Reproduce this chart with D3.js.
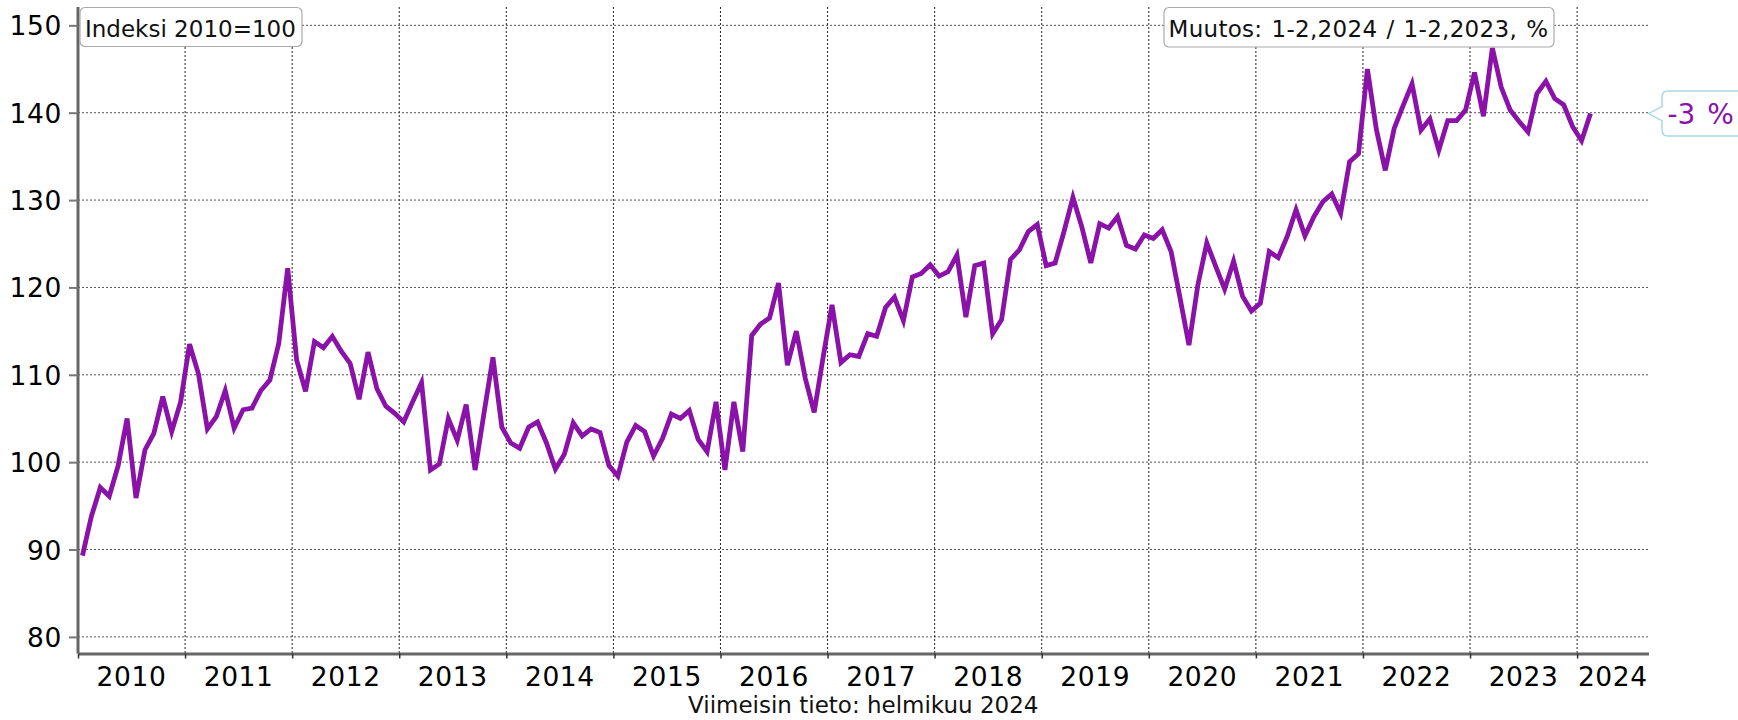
<!DOCTYPE html>
<html>
<head>
<meta charset="utf-8">
<script src="https://cdn.jsdelivr.net/npm/d3@7"></script>
<style>
  html, body { margin: 0; padding: 0; background: #fff; }
  svg { display: block; font-family: "DejaVu Sans", Verdana, sans-serif; }
</style>
</head>
<body>
<svg id="chart" width="1738" height="720"></svg>
<script>
// ---- Data (monthly index, 2010=100), Jan 2010 .. Feb 2024 ----
const startYear = 2010;
const indexValues = [
  // 2010
  89.3, 93.8, 97.1, 96.1, 99.6, 105.0, 95.9, 101.4, 103.3, 107.5, 103.5, 106.9,
  // 2011
  113.5, 110.1, 103.8, 105.2, 108.2, 103.9, 106.0, 106.2, 108.2, 109.4, 113.6, 122.2,
  // 2012
  111.7, 108.1, 113.8, 113.1, 114.4, 112.7, 111.3, 107.2, 112.6, 108.4, 106.4, 105.6,
  // 2013
  104.6, 106.9, 109.1, 99.1, 99.8, 105.0, 102.5, 106.6, 99.1, 105.6, 112.0, 104.0,
  // 2014
  102.2, 101.6, 104.0, 104.6, 102.2, 99.2, 100.9, 104.5, 103.0, 103.8, 103.4, 99.6,
  // 2015
  98.4, 102.3, 104.2, 103.5, 100.7, 102.7, 105.5, 105.0, 105.9, 102.6, 101.2, 106.9,
  // 2016
  99.1, 106.9, 101.2, 114.5, 115.8, 116.5, 120.5, 111.1, 115.0, 109.6, 105.7, 112.0,
  // 2017
  118.0, 111.4, 112.3, 112.1, 114.7, 114.4, 117.7, 118.9, 116.2, 121.2, 121.6, 122.6,
  // 2018
  121.3, 121.8, 123.7, 116.6, 122.5, 122.8, 114.7, 116.3, 123.2, 124.3, 126.4, 127.2,
  // 2019
  122.5, 122.8, 126.4, 130.3, 126.9, 122.8, 127.3, 126.8, 128.1, 124.8, 124.4, 126.0,
  // 2020
  125.6, 126.6, 124.1, 118.8, 113.4, 120.3, 125.1, 122.4, 119.8, 123.0, 119.0, 117.3,
  // 2021
  118.2, 124.1, 123.4, 125.8, 128.9, 125.9, 128.1, 129.8, 130.7, 128.5, 134.4, 135.3,
  // 2022
  145.0, 138.1, 133.4, 138.2, 140.8, 143.3, 138.0, 139.3, 135.7, 139.1, 139.1, 140.3,
  // 2023
  144.6, 139.6, 147.4, 142.9, 140.3, 139.0, 137.8, 142.2, 143.6, 141.6, 140.9, 138.4,
  // 2024
  136.8, 139.9
];
const yearLabels = ["2010","2011","2012","2013","2014","2015","2016","2017","2018","2019","2020","2021","2022","2023","2024"];
const yTickValues = [80, 90, 100, 110, 120, 130, 140, 150];
const unitLabel = "Indeksi 2010=100";
const changeTitle = "Muutos: 1-2,2024 / 1-2,2023, %";
const changeValue = "-3 %";
const footerText = "Viimeisin tieto: helmikuu 2024";

(function () {
  // ---- Layout ----
  const svg = d3.select("#chart");
  const pLeft = 78, pRight = 1648.5, pTop = 7, pBottom = 653.5;
  const totalMonths = 176; // axis runs Jan 2010 .. Sep 2024
  const purple = "#8a12a8";

  const x = d3.scaleLinear().domain([0, totalMonths]).range([pLeft, pRight]);
  const y = d3.scaleLinear().domain([78.1, 152.1]).range([pBottom, pTop]);

  // horizontal gridlines
  svg.append("g").selectAll("line").data(yTickValues).join("line")
    .attr("x1", pLeft).attr("x2", pRight)
    .attr("y1", d => y(d)).attr("y2", d => y(d))
    .attr("stroke", "#555").attr("stroke-width", 1).attr("stroke-dasharray", "2,2");

  // vertical gridlines at year boundaries
  const yearStarts = yearLabels.map((_, i) => i * 12);
  svg.append("g").selectAll("line").data(yearStarts.slice(1)).join("line")
    .attr("x1", d => x(d)).attr("x2", d => x(d))
    .attr("y1", pTop).attr("y2", pBottom)
    .attr("stroke", "#222").attr("stroke-width", 1).attr("stroke-dasharray", "2,2");

  // y axis
  const yAxis = svg.append("g").attr("transform", `translate(${pLeft},0)`)
    .call(d3.axisLeft(y).tickValues(yTickValues).tickSize(9).tickSizeOuter(0).tickPadding(7));
  yAxis.select(".domain").attr("stroke", "#666").attr("stroke-width", 3)
    .attr("d", `M0,${pTop}V${pBottom}`);
  yAxis.selectAll(".tick line").attr("stroke", "#777").attr("stroke-width", 2);
  yAxis.selectAll(".tick text").attr("font-size", 26.5).attr("fill", "#000")
    .attr("font-family", "DejaVu Sans, Verdana, sans-serif").attr("dy", "0.36em")
    .attr("letter-spacing", 0.6);

  // x axis
  const xAxis = svg.append("g").attr("transform", `translate(0,${pBottom})`)
    .call(d3.axisBottom(x).tickValues(yearStarts).tickSize(5).tickSizeOuter(0).tickFormat(""));
  xAxis.select(".domain").attr("stroke", "#666").attr("stroke-width", 3);
  xAxis.selectAll(".tick line").attr("stroke", "#333").attr("stroke-width", 1.5);

  // year labels centered in each year span
  svg.append("g").selectAll("text").data(yearLabels).join("text")
    .attr("x", (d, i) => {
      const s = i * 12, e = Math.min(s + 12, totalMonths);
      return x((s + e) / 2);
    })
    .attr("y", 686)
    .attr("text-anchor", "middle")
    .attr("font-size", 26.5)
    .attr("letter-spacing", 0.6)
    .attr("fill", "#000")
    .text(d => d);

  // line
  const line = d3.line()
    .x((d, i) => x(i + 0.5))
    .y(d => y(d));
  svg.append("path").datum(indexValues)
    .attr("d", line)
    .attr("fill", "none")
    .attr("stroke", purple)
    .attr("stroke-width", 4.8)
    .attr("stroke-linejoin", "miter");

  // unit box
  svg.append("rect").attr("x", 80).attr("y", 7.5).attr("width", 222).attr("height", 39)
    .attr("rx", 5).attr("fill", "#fff").attr("stroke", "#aaa").attr("stroke-width", 1.2);
  svg.append("text").attr("x", 85).attr("y", 36.5).attr("font-size", 23).attr("fill", "#111").text(unitLabel);

  // change title box
  svg.append("rect").attr("x", 1164).attr("y", 7.5).attr("width", 390).attr("height", 39.5)
    .attr("rx", 5).attr("fill", "#fff").attr("stroke", "#aaa").attr("stroke-width", 1.2);
  svg.append("text").attr("x", 1168.5).attr("y", 36.5).attr("font-size", 23)
    .attr("letter-spacing", 0.3).attr("word-spacing", 1.5)
    .attr("fill", "#111").text(changeTitle);

  // callout with change value, pointing at last value
  const lastVal = indexValues[indexValues.length - 1];
  const tipX = x(totalMonths), tipY = y(lastVal);
  const bx = tipX + 13.5, bTop = tipY - 22.7, bBot = tipY + 22.3, bRight = 1760, r = 6;
  const callout = d3.path();
  callout.moveTo(tipX, tipY);
  callout.lineTo(bx, tipY - 7);
  callout.lineTo(bx, bTop + r);
  callout.quadraticCurveTo(bx, bTop, bx + r, bTop);
  callout.lineTo(bRight, bTop);
  callout.lineTo(bRight, bBot);
  callout.lineTo(bx + r, bBot);
  callout.quadraticCurveTo(bx, bBot, bx, bBot - r);
  callout.lineTo(bx, tipY + 7);
  callout.closePath();
  svg.append("path").attr("d", callout.toString())
    .attr("fill", "#fff").attr("stroke", "#a8d8ea").attr("stroke-width", 1.5);
  svg.append("text").attr("x", bx + 5.5).attr("y", tipY + 10.5)
    .attr("font-size", 28).attr("word-spacing", 3).attr("fill", purple).text(changeValue);

  // footer
  svg.append("text").attr("x", (pLeft + pRight) / 2).attr("y", 713)
    .attr("text-anchor", "middle").attr("font-size", 23).attr("fill", "#111").text(footerText);
})();
</script>
</body>
</html>
